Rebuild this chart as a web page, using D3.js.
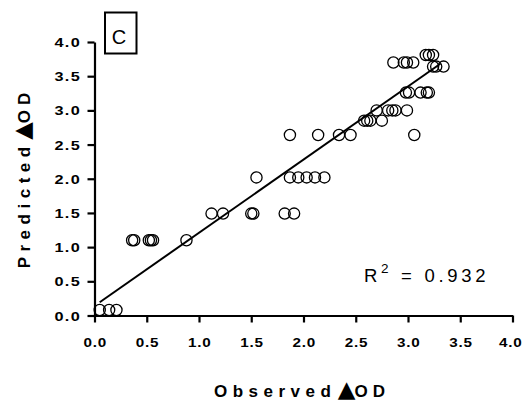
<!DOCTYPE html>
<html><head><meta charset="utf-8">
<script src="https://cdn.jsdelivr.net/npm/d3@7"></script>
<style>body{margin:0;background:#fff}svg{display:block}</style>
</head><body>
<svg id="chart" width="524" height="403"></svg>
<script>
// ---- data ----
const observed  = [0.05,0.14,0.21, 0.36,0.38,0.52,0.54,0.56,0.88,
                   1.12,1.23,1.50,1.52,1.82,1.91,
                   1.55,1.87,1.95,2.03,2.11,2.20,
                   1.87,2.14,2.34,2.45,3.06,
                   2.58,2.61,2.64,2.75,
                   2.70,2.81,2.85,2.88,2.99,
                   2.98,3.01,3.12,3.18,3.20,
                   2.86,2.96,2.99,3.05,
                   3.17,3.20,3.24,
                   3.24,3.27,3.34];
const predicted = [0.08,0.08,0.08, 1.10,1.10,1.10,1.10,1.10,1.10,
                   1.49,1.49,1.49,1.49,1.49,1.49,
                   2.02,2.02,2.02,2.02,2.02,2.02,
                   2.64,2.64,2.64,2.64,2.64,
                   2.85,2.85,2.85,2.85,
                   3.00,3.00,3.00,3.00,3.00,
                   3.26,3.26,3.26,3.26,3.26,
                   3.70,3.70,3.70,3.70,
                   3.81,3.81,3.81,
                   3.64,3.64,3.64];
const tickValues = [0,0.5,1,1.5,2,2.5,3,3.5,4];
const tickLabels = ["0.0","0.5","1.0","1.5","2.0","2.5","3.0","3.5","4.0"];
const fitSlope = 1.07, fitIntercept = 0.14, fitXRange = [0.05, 3.31];
const panelLabel = "C";
const r2Value = "0.932";
const xTitle = ["Observed", "\u25B2", "OD"];
const yTitle = ["Predicted", "\u25B2", "OD"];

// ---- drawing ----
const W = 524;
const svg = d3.select("#chart");
const x = d3.scaleLinear().domain([0,4]).range([94.5, 512.5]);
const y = d3.scaleLinear().domain([0,4]).range([315.5, 42]);
const font = "'Liberation Sans', Arial, Helvetica, sans-serif";

const yAxis = svg.append("g").attr("transform", `translate(${x(0)},0)`)
  .call(d3.axisLeft(y).tickValues(tickValues).tickFormat((d,i)=>tickLabels[i]).tickSize(7).tickSizeOuter(0));
const xAxis = svg.append("g").attr("transform", `translate(0,${y(0)})`)
  .call(d3.axisBottom(x).tickValues(tickValues).tickFormat((d,i)=>tickLabels[i]).tickSize(7).tickSizeOuter(0));

[yAxis, xAxis].forEach(g => {
  g.select(".domain").attr("stroke", "#000").attr("stroke-width", 2.2);
  g.selectAll(".tick line").attr("stroke", "#000").attr("stroke-width", 2.2);
  g.selectAll(".tick text").attr("fill", "#000")
    .style("font-family", font).style("font-weight", "bold").style("font-size", "12.5px");
});
yAxis.selectAll(".tick text").attr("x", null).attr("dy", "0.36em").style("letter-spacing", "1px")
  .attr("text-anchor", "end").attr("transform", "translate(-13.5,0) scale(1.3,1)");
xAxis.selectAll(".tick text").attr("y", null).attr("dy", null).style("letter-spacing", "0.6px")
  .attr("text-anchor", "middle")
  .each(function(d) {
    // keep the last label inside the picture
    const t = d3.select(this);
    t.attr("transform", "translate(0.3,31.5) scale(1.22,1)");
    const b = this.getBBox();
    const right = x(d) + 0.3 + (b.x + b.width) * 1.22;
    const shift = right > W - 2 ? (W - 2 - right) : 0;
    t.attr("transform", `translate(${0.3 + shift},31.5) scale(1.22,1)`);
  });

// fit line
svg.append("line")
  .attr("x1", x(fitXRange[0])).attr("y1", y(fitSlope*fitXRange[0]+fitIntercept))
  .attr("x2", x(fitXRange[1])).attr("y2", y(fitSlope*fitXRange[1]+fitIntercept))
  .attr("stroke", "#000").attr("stroke-width", 2);

// points
svg.append("g").selectAll("circle").data(observed.map((o,i)=>[o,predicted[i]]))
  .join("circle")
  .attr("cx", d=>x(d[0])).attr("cy", d=>y(d[1])).attr("r", 5.6)
  .attr("fill", "none").attr("stroke", "#000").attr("stroke-width", 1.3);

// titles
function title(parts, tx, ty, rot) {
  const t = svg.append("text")
    .attr("transform", `translate(${tx},${ty}) rotate(${rot})`)
    .attr("text-anchor", "middle")
    .style("font-family", font).style("font-weight", "bold").style("font-size", "17px")
    .attr("fill", "#000");
  t.append("tspan").text(parts[0]).style("letter-spacing", "5.5px");
  t.append("tspan").text(parts[1]).attr("dx", 1.5).style("font-family", "'DejaVu Sans', sans-serif").style("font-size", "23px");
  t.append("tspan").text(parts[2]).attr("dx", -1).style("letter-spacing", "5px");
}
title(xTitle, 302, 396.5, 0);
title(yTitle, 30, 178, -90);

// panel label
svg.append("rect").attr("x", 105).attr("y", 12.5).attr("width", 31.5).attr("height", 41)
  .attr("fill", "none").attr("stroke", "#000").attr("stroke-width", 2);
svg.append("text").attr("x", 119).attr("y", 43.5).attr("text-anchor", "middle")
  .style("font-family", font).style("font-size", "20px").attr("fill", "#000").text(panelLabel);

// R^2
const rt = svg.append("text").attr("x", 364).attr("y", 282.3)
  .style("font-family", font).style("font-size", "18.5px").style("letter-spacing", "3.7px").attr("fill", "#000");
rt.append("tspan").text("R");
rt.append("tspan").text("2").attr("dy", -9).style("font-size", "13.5px");
rt.append("tspan").text(" = " + r2Value).attr("dy", 9);
</script>
</body></html>
